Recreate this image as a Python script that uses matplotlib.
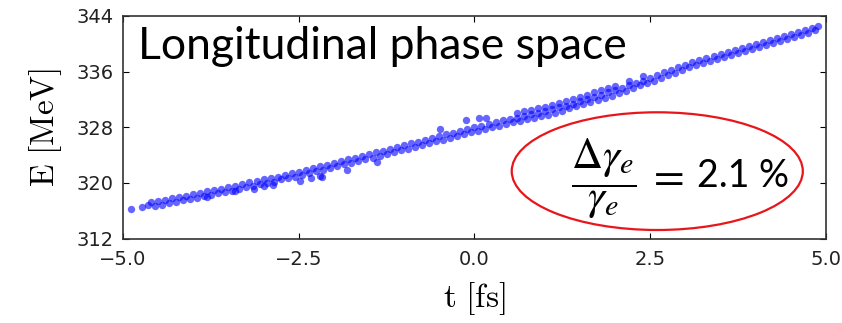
import matplotlib.pyplot as plt
from matplotlib.patches import Ellipse

# --------------------------------------------------
# Data (t in fs, E in MeV)
# --------------------------------------------------

# upper edge of the main band
t_upper = [-4.6, -4.5, -4.4, -4.3, -4.2, -4.1, -4.0, -3.9, -3.8, -3.7,
           -3.6, -3.5, -3.4, -3.3, -3.2, -3.1, -3.0, -2.9, -2.8, -2.7,
           -2.6, -2.5, -2.4, -2.3, -2.2, -2.1, -2.0, -1.9, -1.8, -1.7,
           -1.6, -1.5, -1.4, -1.3, -1.2, -1.1, -1.0, -0.9, -0.8, -0.7,
           -0.6, -0.5, -0.4, -0.3, -0.2, -0.1, 0.0, 0.1, 0.2, 0.3,
           0.4, 0.5, 0.6, 0.7, 0.8, 0.9, 1.0, 1.1, 1.2, 1.3,
           1.4, 1.5, 1.6, 1.7, 1.8, 1.9, 2.0, 2.1, 2.2, 2.3,
           2.4, 2.5, 2.6, 2.7, 2.8, 2.9, 3.0, 3.1, 3.2, 3.3,
           3.4, 3.5, 3.6, 3.7, 3.8, 3.9, 4.0, 4.1, 4.2, 4.3,
           4.4, 4.5, 4.6, 4.7, 4.8]
e_upper = [317.2, 317.4, 317.6, 317.8, 318.0, 318.2, 318.4, 318.6, 318.8, 319.0,
           319.2, 319.4, 319.6, 319.8, 320.1, 320.3, 320.5, 320.7, 320.9, 321.2,
           321.4, 321.6, 321.9, 322.1, 322.4, 322.6, 322.9, 323.1, 323.4, 323.6,
           323.9, 324.1, 324.4, 324.6, 324.9, 325.1, 325.4, 325.7, 325.9, 326.2,
           326.4, 326.7, 327.0, 327.2, 327.5, 327.7, 328.0, 328.2, 328.5, 328.7,
           329.0, 329.2, 329.4, 329.6, 329.9, 330.1, 330.3, 330.6, 330.9, 331.1,
           331.4, 331.7, 332.0, 332.3, 332.7, 333.0, 333.3, 333.7, 334.0, 334.4,
           334.7, 335.1, 335.5, 335.9, 336.2, 336.6, 337.0, 337.3, 337.6, 337.9,
           338.2, 338.5, 338.8, 339.1, 339.4, 339.7, 340.0, 340.3, 340.6, 340.8,
           341.1, 341.4, 341.7, 342.0, 342.3]

# lower edge of the main band
t_lower = [-4.55, -4.45, -4.35, -4.25, -4.15, -4.05, -3.95, -3.85, -3.75, -3.65,
           -3.55, -3.45, -3.35, -3.25, -3.15, -3.05, -2.95, -2.85, -2.75, -2.65,
           -2.55, -2.45, -2.35, -2.25, -2.15, -2.05, -1.95, -1.85, -1.75, -1.65,
           -1.55, -1.45, -1.35, -1.25, -1.15, -1.05, -0.95, -0.85, -0.75, -0.65,
           -0.55, -0.45, -0.35, -0.25, -0.15, -0.05, 0.05, 0.15, 0.25, 0.35,
           0.45, 0.55, 0.65, 0.75, 0.85, 0.95, 1.05, 1.15, 1.25, 1.35,
           1.45, 1.55, 1.65, 1.75, 1.85, 1.95, 2.05, 2.15, 2.25, 2.35,
           2.45, 2.55, 2.65, 2.75, 2.85, 2.95, 3.05, 3.15, 3.25, 3.35,
           3.45, 3.55, 3.65, 3.75, 3.85, 3.95, 4.05, 4.15, 4.25, 4.35,
           4.45, 4.55, 4.65, 4.75, 4.85]
e_lower = [316.7, 316.9, 317.1, 317.3, 317.5, 317.7, 317.9, 318.1, 318.3, 318.5,
           318.7, 318.9, 319.1, 319.4, 319.6, 319.8, 320.0, 320.2, 320.5, 320.7,
           320.9, 321.1, 321.4, 321.7, 321.9, 322.2, 322.4, 322.7, 322.9, 323.1,
           323.4, 323.6, 323.9, 324.2, 324.4, 324.7, 324.9, 325.2, 325.5, 325.7,
           326.0, 326.2, 326.5, 326.8, 327.0, 327.3, 327.5, 327.8, 328.0, 328.2,
           328.5, 328.7, 328.9, 329.2, 329.4, 329.6, 329.8, 330.1, 330.4, 330.7,
           331.0, 331.3, 331.6, 331.9, 332.2, 332.5, 332.9, 333.2, 333.6, 334.0,
           334.3, 334.7, 335.1, 335.5, 335.8, 336.2, 336.6, 336.9, 337.2, 337.5,
           337.8, 338.1, 338.4, 338.7, 339.0, 339.3, 339.5, 339.8, 340.1, 340.4,
           340.7, 341.0, 341.3, 341.6, 341.9]

# upper branch between 0.5 and 2.5 fs
t_branch = [0.6, 0.7, 0.8, 0.9, 1.0, 1.1, 1.2, 1.3, 1.4, 1.5,
            1.6, 1.7, 1.8, 1.9, 2.0, 2.2, 2.4]
e_branch = [330.1, 330.3, 330.5, 330.7, 330.9, 331.2, 331.5, 331.8, 332.0, 332.3,
            332.6, 333.0, 333.3, 333.6, 333.9, 334.6, 335.3]

# sparse head/tail, stragglers and outliers
t_extra = [-4.89, -4.73, -4.65, 4.89,
           -3.8, -3.4, -3.14, -3.0, -2.86, -2.48, -2.32, -2.2, -2.17, -1.82, -1.39,
           -0.49, -0.12, 0.06, 0.16]
e_extra = [316.2, 316.5, 316.8, 342.5,
           318.0, 318.8, 319.1, 319.6, 319.7, 320.3, 320.7, 321.0, 320.9, 321.9, 323.0,
           327.7, 329.0, 329.4, 329.4]

x_ticks = [-5.0, -2.5, 0.0, 2.5, 5.0]
y_ticks = [312, 320, 328, 336, 344]


plt.rcParams["mathtext.fontset"] = "cm"

fig = plt.figure(figsize=(8.42, 3.23), dpi=100)
ax = fig.add_axes([0.146, 0.261, 0.835, 0.690])

for tt, ee in [(t_upper, e_upper), (t_lower, e_lower),
               (t_branch, e_branch), (t_extra, e_extra)]:
    ax.scatter(tt, ee, s=28, color="#0000ff", alpha=0.6, linewidths=0)

ax.set_xlim(-5, 5)
ax.set_ylim(312, 344)
ax.set_xticks(x_ticks)
ax.set_yticks(y_ticks)
ax.set_xticklabels([f"{v:.1f}".replace("-", "\u2212") for v in x_ticks])
ax.tick_params(direction="in", top=True, right=True, length=4,
               labelsize=14, labelcolor="#222222")
ax.tick_params(axis="x", pad=8)
ax.tick_params(axis="y", pad=7)
for sp in ax.spines.values():
    sp.set_linewidth(1.2)
    sp.set_color("#333333")

ax.set_xlabel(r"$\mathrm{t\ [fs]}$", fontsize=24)
ax.set_ylabel(r"$\mathrm{E\ [MeV]}$", fontsize=24)
ax.xaxis.set_label_coords(0.5, -0.185)
ax.yaxis.set_label_coords(-0.11, 0.5)
ax.xaxis.label.set_va("top")
ax.yaxis.label.set_va("center")

# --------------------------------------------------
# Annotations
# --------------------------------------------------

ax.text(0.021, 0.955, "Longitudinal phase space", transform=ax.transAxes,
        family="Lato", fontsize=32, va="top", ha="left")

ax.add_patch(Ellipse((2.60, 321.7), 4.14, 16.9, fill=False,
                     edgecolor="#e8161b", lw=1.6))

ax.text(1.84, 320.6, r"$\dfrac{\Delta\gamma_e}{\gamma_e}$", fontsize=31,
        ha="center", va="center", math_fontfamily="stix")
ax.text(2.72, 321.1, r"$=$", fontsize=32, ha="center", va="center",
        math_fontfamily="stix")
ax.text(3.17, 319.4, "2.1 %", family="Lato", fontsize=27,
        ha="left", va="baseline")

fig.savefig("out.png", dpi=100)
